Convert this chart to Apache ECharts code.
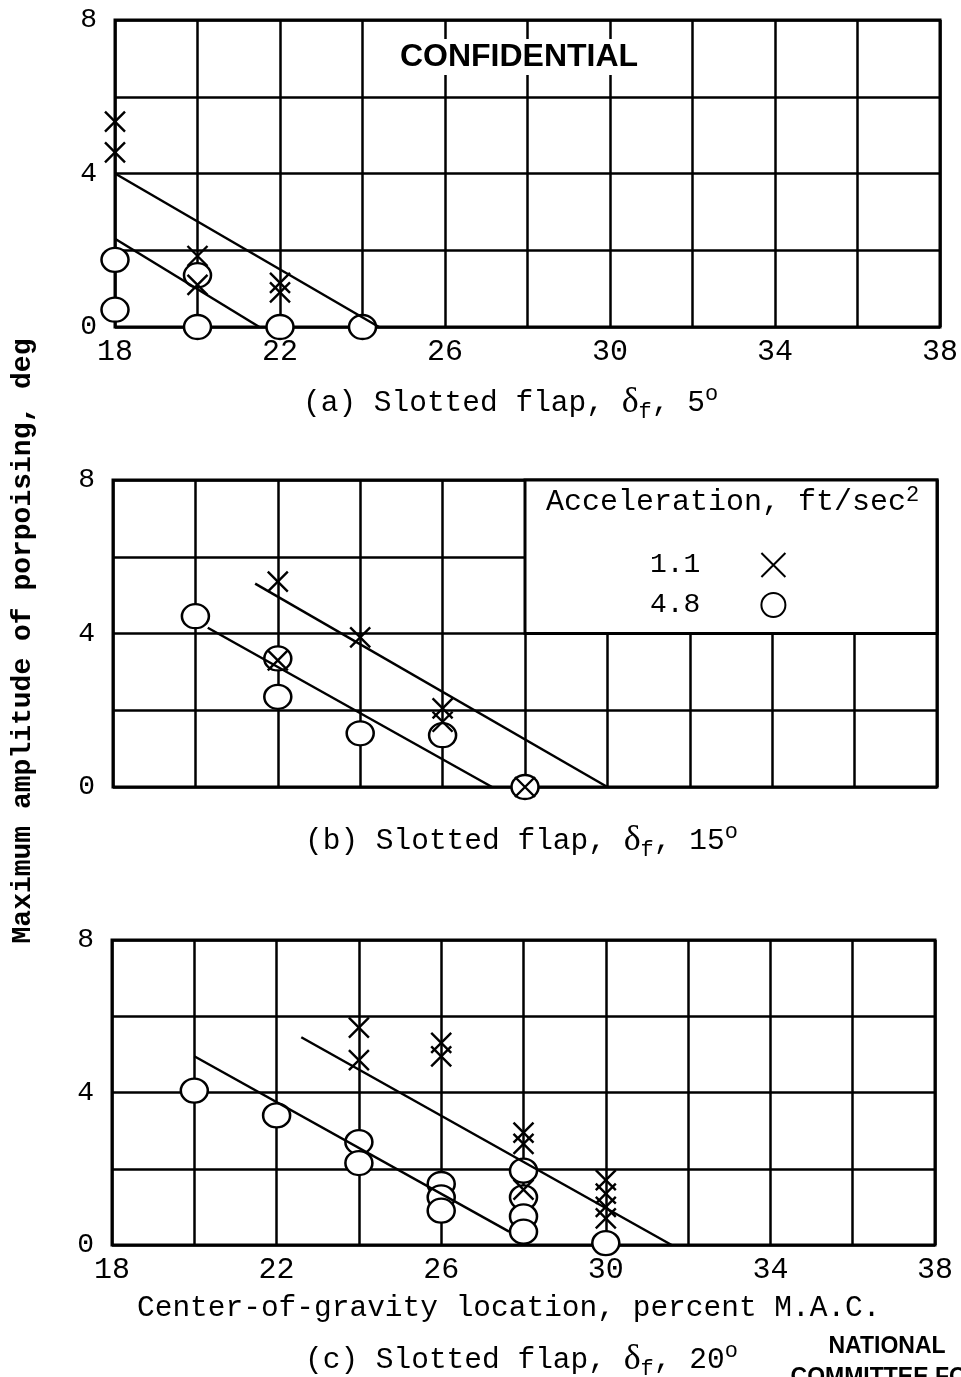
<!DOCTYPE html>
<html>
<head>
<meta charset="utf-8">
<script src="https://cdn.jsdelivr.net/npm/echarts@6/dist/echarts.min.js"></script>
<style>
  html, body { margin: 0; padding: 0; background: #fff; }
  #chart { width: 961px; height: 1377px; }
</style>
</head>
<body>
<div id="chart"></div>
<script>
// Axis ticks (center-of-gravity location, percent M.A.C.; amplitude, deg)
const xTicks = [18, 22, 26, 30, 34, 38];
const yTicks = [0, 4, 8];

// (a) Slotted flap, 5 deg
const aCrossX = [18, 18, 20, 20, 22, 22];
const aCrossY = [5.35, 4.55, 1.85, 1.1, 1.15, 0.9];
const aCircX  = [18, 18, 20, 20, 22, 24];
const aCircY  = [1.75, 0.45, 1.35, 0, 0, 0];
const aUpperFair = [[18, 4.0], [24.4, 0]];
const aLowerFair = [[18, 2.3], [21.5, 0]];

// (b) Slotted flap, 15 deg
const bCrossX = [22, 22, 24, 26, 26, 28];
const bCrossY = [5.35, 3.3, 3.9, 2.05, 1.7, 0];
const bCircX  = [20, 22, 22, 24, 26, 28];
const bCircY  = [4.45, 3.35, 2.35, 1.4, 1.35, 0];
const bUpperFair = [[21.45, 5.3], [30, 0]];
const bLowerFair = [[20.3, 4.15], [27.2, 0]];

// (c) Slotted flap, 20 deg
const cCrossX = [24, 24, 26, 26, 28, 28, 28, 30, 30, 30, 30];
const cCrossY = [5.7, 4.85, 5.3, 4.95, 2.95, 2.65, 1.45, 1.7, 1.35, 1.0, 0.7];
const cCircX  = [20, 22, 24, 24, 26, 26, 26, 28, 28, 28, 28, 30];
const cCircY  = [4.05, 3.4, 2.7, 2.15, 1.6, 1.25, 0.9, 1.95, 1.25, 0.75, 0.35, 0.05];
const cUpperFair = [[22.6, 5.45], [31.6, 0]];
const cLowerFair = [[20, 4.95], [27.65, 0.35]];

// Legend entries: acceleration, ft/sec^2
const accelLow = '1.1';
const accelHigh = '4.8';
// Legend box region in panel (b): [x0, y0] to [x1, y1]
const legendBox = [[28, 4], [38, 8]];

const MONO = 'Liberation Mono';
const CROSS = 'path://M0,0L10,10M10,0L0,10';

function pairs(xs, ys) { return xs.map((x, i) => [x, ys[i]]); }

function crossSeries(idx, xs, ys) {
  return {
    type: 'scatter', name: accelLow, xAxisIndex: idx, yAxisIndex: idx,
    data: pairs(xs, ys), symbol: CROSS, symbolSize: [20, 20],
    itemStyle: { color: 'transparent', borderColor: '#000', borderWidth: 2.4, opacity: 1 },
    z: 4, silent: true
  };
}
function circleSeries(idx, xs, ys) {
  return {
    type: 'scatter', name: accelHigh, xAxisIndex: idx, yAxisIndex: idx,
    data: pairs(xs, ys), symbol: 'circle', symbolSize: [27, 24],
    itemStyle: { color: '#fff', borderColor: '#000', borderWidth: 2.4, opacity: 1 },
    z: 3, silent: true
  };
}
function fairSeries(idx, pts, extra) {
  return Object.assign({
    type: 'line', xAxisIndex: idx, yAxisIndex: idx, data: pts,
    symbol: 'none', lineStyle: { color: '#000', width: 2.5 }, z: 5, silent: true
  }, extra || {});
}

const grids = [
  { left: 115, top: 20, width: 825, height: 307 },
  { left: 113, top: 480, width: 824, height: 307 },
  { left: 112, top: 940, width: 823, height: 305 }
].map(g => Object.assign(g, { show: true, borderColor: '#000', borderWidth: 3, backgroundColor: 'transparent' }));

function xAxisFor(idx, showLabels) {
  return {
    type: 'value', gridIndex: idx, min: 18, max: 38, interval: 2,
    axisLine: { show: false }, axisTick: { show: false },
    splitLine: { show: true, lineStyle: { color: '#000', width: 2.5 } },
    axisLabel: {
      show: showLabels, margin: 10, color: '#000', fontFamily: MONO, fontSize: 30,
      formatter: v => xTicks.includes(v) ? String(v) : ''
    }
  };
}
function yAxisFor(idx) {
  return {
    type: 'value', gridIndex: idx, min: 0, max: 8, interval: 2,
    axisLine: { show: false }, axisTick: { show: false },
    splitLine: { show: true, lineStyle: { color: '#000', width: 2.5 } },
    axisLabel: {
      margin: 18, color: '#000', fontFamily: MONO, fontSize: 28,
      formatter: v => yTicks.includes(v) ? String(v) : ''
    }
  };
}

const RICH = {
  t: { fontFamily: MONO, fontSize: 29.5, fontWeight: 'normal', color: '#000', lineHeight: 40 },
  d: { fontFamily: 'Liberation Serif', fontSize: 36, fontWeight: 'normal', color: '#000', lineHeight: 40 },
  s: { fontFamily: MONO, fontSize: 22, fontWeight: 'normal', color: '#000', lineHeight: 20, verticalAlign: 'bottom' },
  o: { fontFamily: MONO, fontSize: 22, fontWeight: 'normal', color: '#000', lineHeight: 22, verticalAlign: 'top' }
};
function caption(letter, angle, left, top) {
  return {
    text: '{t|(' + letter + ') Slotted flap, }{d|δ}{s|f}{t|, ' + angle + '}{o|o}',
    left: left, top: top, padding: 0,
    textStyle: { fontWeight: 'normal', rich: RICH }
  };
}

const chart = echarts.init(document.getElementById('chart'), null, { renderer: 'canvas' });

chart.setOption({
  backgroundColor: '#fff',
  animation: false,
  grid: grids,
  xAxis: [xAxisFor(0, true), xAxisFor(1, false), xAxisFor(2, true)],
  yAxis: [yAxisFor(0), yAxisFor(1), yAxisFor(2)],
  title: [
    caption('a', '5', 303, 383),
    caption('b', '15', 305, 821),
    caption('c', '20', 305, 1340),
    {
      text: 'Center-of-gravity location, percent M.A.C.', left: 137, top: 1293, padding: 0,
      textStyle: { fontFamily: MONO, fontSize: 29.5, fontWeight: 'normal', color: '#000' }
    }
  ],
  legend: {
    data: [accelLow, accelHigh], orient: 'vertical', align: 'right',
    left: 645, top: 546, itemWidth: 24, itemHeight: 24, itemGap: 12,
    selectedMode: false,
    textStyle: { fontFamily: MONO, fontSize: 28, color: '#000', padding: [0, 56, 0, 0] }
  },
  graphic: [
    {
      type: 'text', x: 23, y: 641, rotation: Math.PI / 2, z: 100,
      style: {
        text: 'Maximum amplitude of porpoising, deg', fill: '#000',
        font: 'bold 28px "Liberation Mono"', align: 'center', verticalAlign: 'middle'
      }
    },
    {
      type: 'text', x: 519, y: 57, z: 100,
      style: {
        text: 'CONFIDENTIAL', fill: '#000', font: 'bold 32px "Liberation Sans"',
        align: 'center', verticalAlign: 'middle', backgroundColor: '#fff', padding: [2, 4]
      }
    },
    {
      type: 'text', x: 546, y: 502, z: 100,
      style: {
        text: '{t|Acceleration, ft/sec}{o|2}', align: 'left', verticalAlign: 'middle',
        rich: {
          t: { fontFamily: MONO, fontSize: 30, fill: '#000', lineHeight: 36 },
          o: { fontFamily: MONO, fontSize: 22, fill: '#000', lineHeight: 22, verticalAlign: 'top' }
        }
      }
    },
    {
      type: 'text', x: 887, y: 1347, z: 100,
      style: { text: 'NATIONAL', fill: '#000', font: 'bold 23px "Liberation Sans"', align: 'center', verticalAlign: 'middle' }
    },
    {
      type: 'text', x: 887, y: 1378, z: 100,
      style: { text: 'COMMITTEE FOR', fill: '#000', font: 'bold 23px "Liberation Sans"', align: 'center', verticalAlign: 'middle' }
    }
  ],
  series: [
    circleSeries(0, aCircX, aCircY),
    crossSeries(0, aCrossX, aCrossY),
    fairSeries(0, aUpperFair),
    fairSeries(0, aLowerFair),

    circleSeries(1, bCircX, bCircY),
    crossSeries(1, bCrossX, bCrossY),
    fairSeries(1, bUpperFair, {
      markArea: {
        silent: true,
        itemStyle: { color: '#fff', opacity: 1, borderColor: '#000', borderWidth: 3 },
        data: [[{ coord: legendBox[0] }, { coord: legendBox[1] }]]
      }
    }),
    fairSeries(1, bLowerFair),

    circleSeries(2, cCircX, cCircY),
    crossSeries(2, cCrossX, cCrossY),
    fairSeries(2, cUpperFair),
    fairSeries(2, cLowerFair)
  ]
});
</script>
</body>
</html>
